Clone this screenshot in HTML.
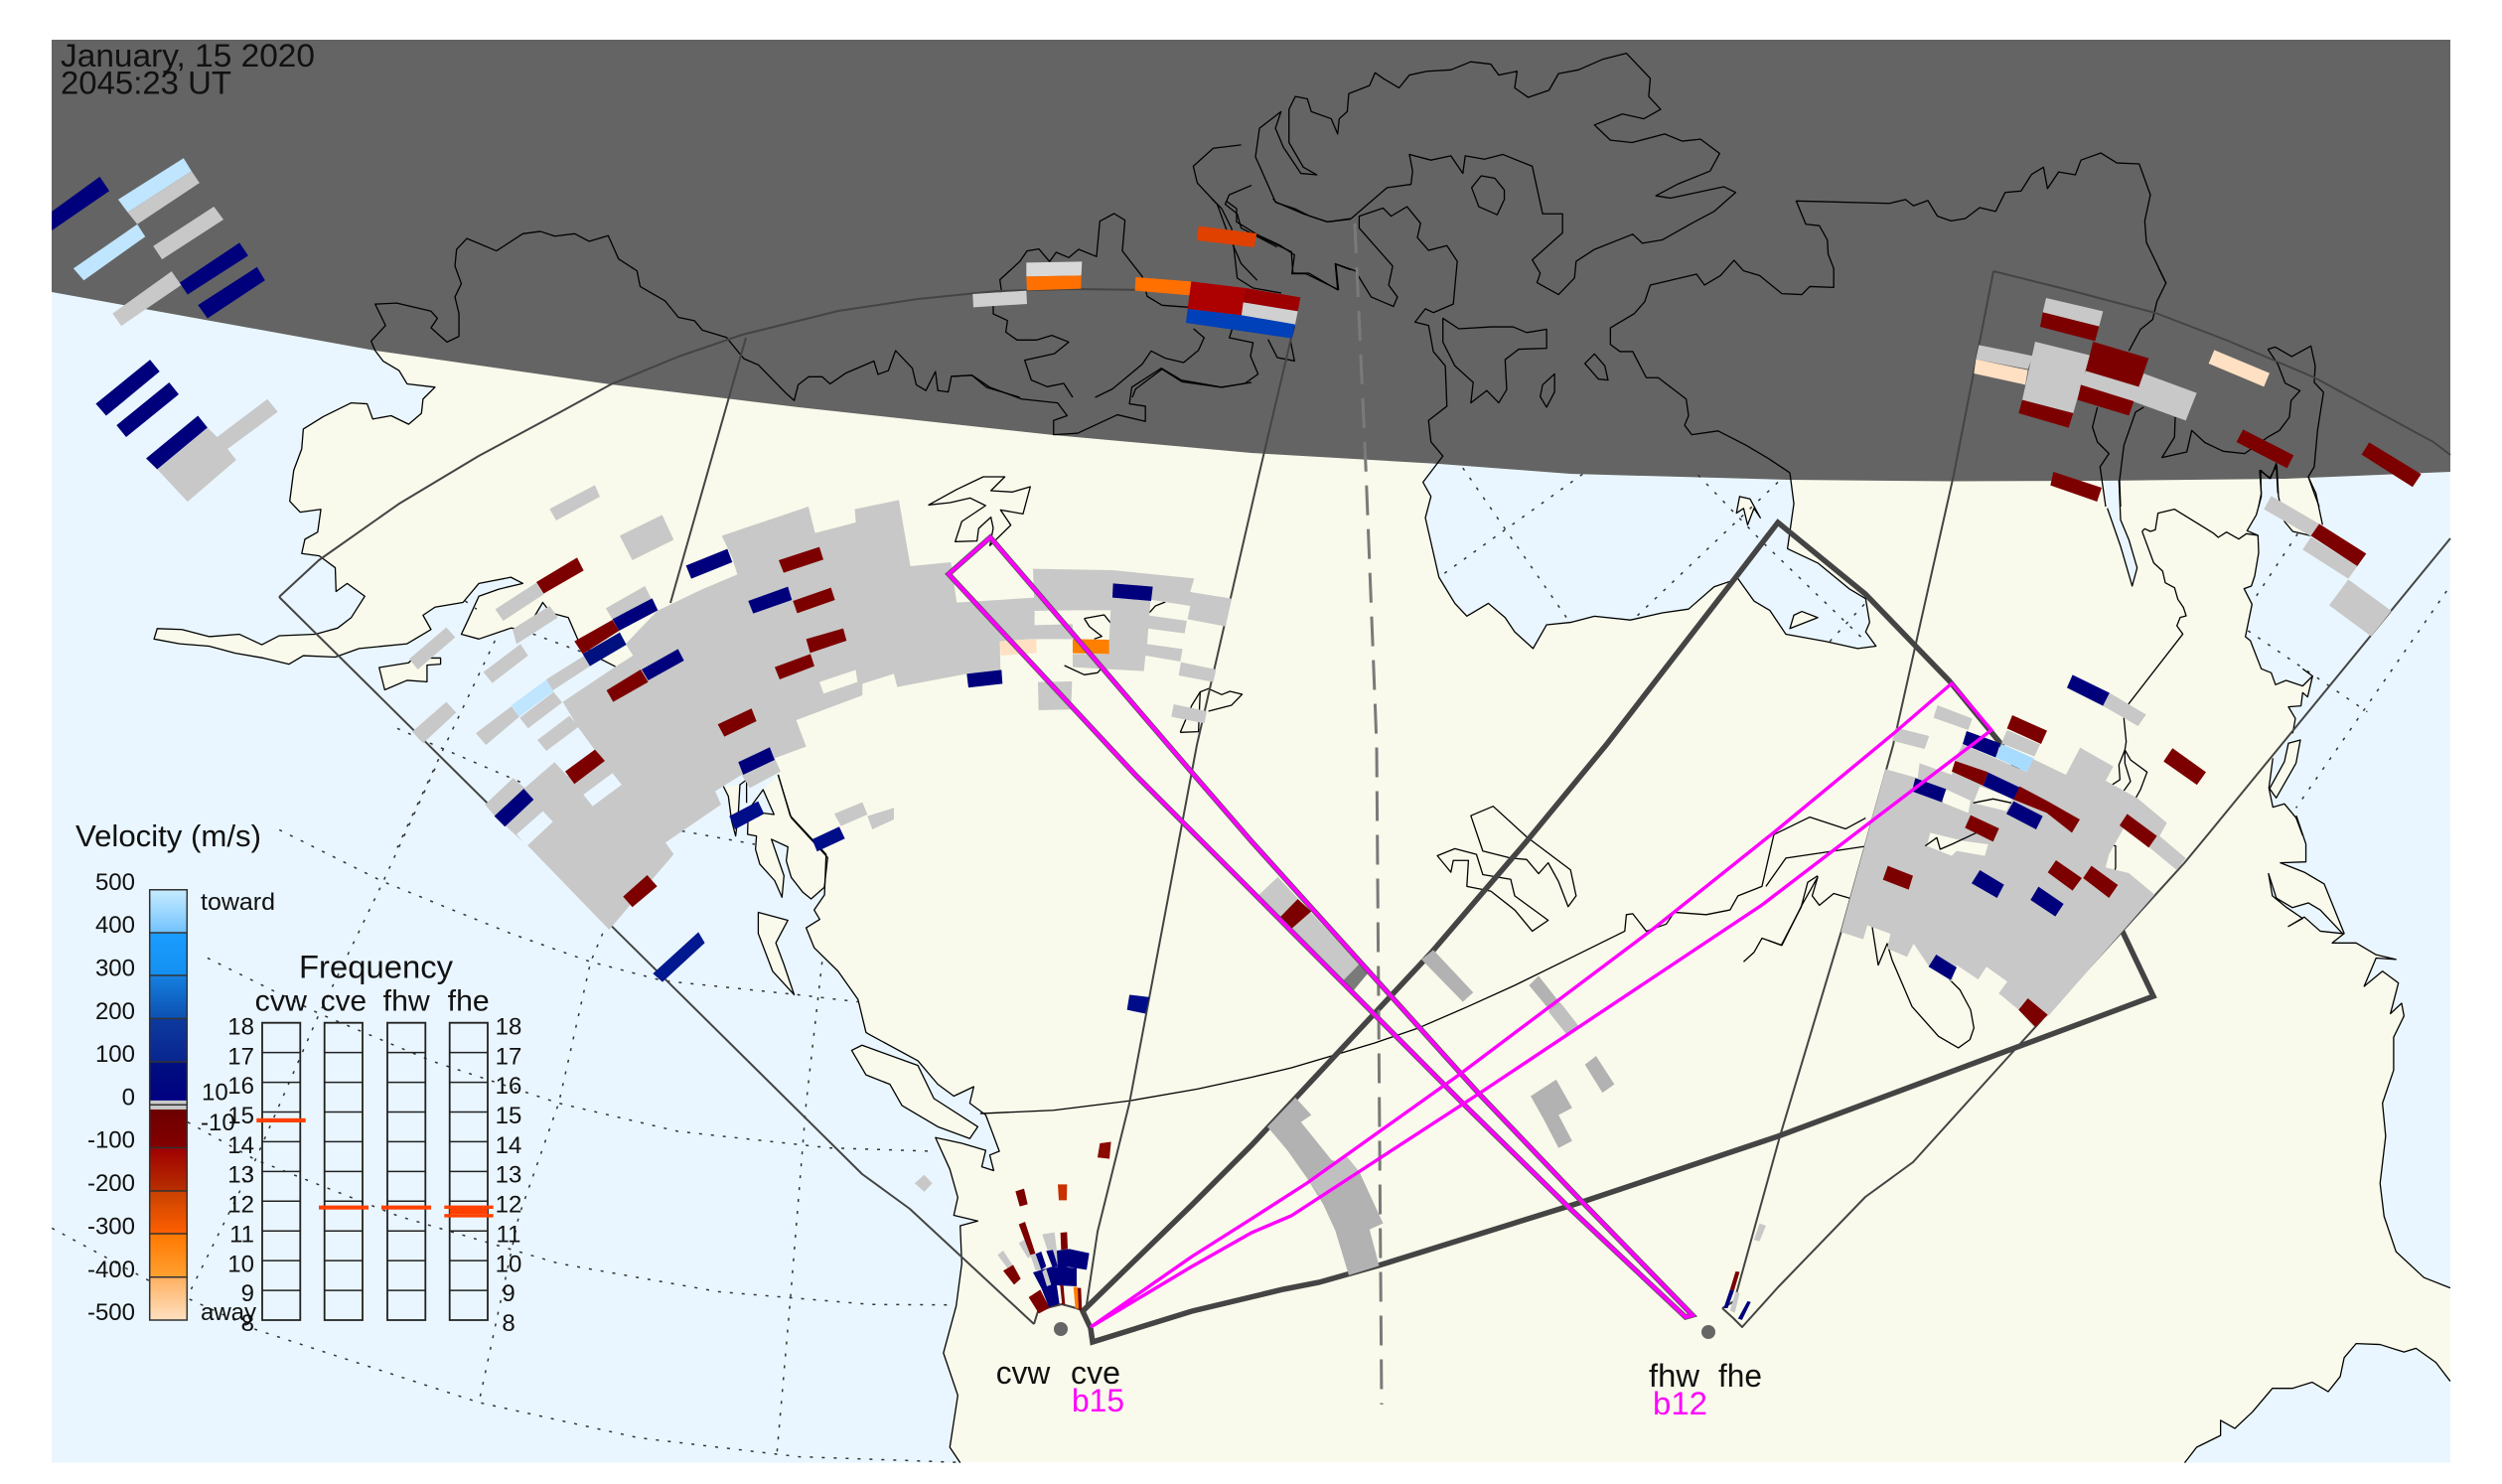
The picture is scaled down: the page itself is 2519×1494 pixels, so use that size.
<!DOCTYPE html>
<html><head><meta charset="utf-8"><title>SuperDARN velocity map</title>
<style>
html,body{margin:0;padding:0;background:#fff}
svg{display:block;font-family:"Liberation Sans",sans-serif}
svg *{vector-effect:non-scaling-stroke}
.c{fill:none;stroke:#000;stroke-width:1.3;stroke-linejoin:round}
.f{fill:none;stroke:#444;stroke-width:2;stroke-linejoin:round}
.d{fill:none;stroke:#333;stroke-width:1.5;stroke-dasharray:3 9}
.o{fill:#e9f6ff}.l{fill:#f9faeb}
.g{fill:#c8c8c8}.n{fill:#00007d}.r{fill:#7d0000}.p{fill:#ffe0c2}.b{fill:#bfe5ff}.m{fill:#b2b2b2}
.k{fill:#7a7a7a}
text{fill:#111}
</style></head><body>
<svg xmlns="http://www.w3.org/2000/svg" width="2519" height="1494" viewBox="0 0 2519 1494">
<defs><linearGradient id="cb" x1="0" y1="0" x2="0" y2="1">
<stop offset="0" stop-color="#c6ecff"/><stop offset=".099" stop-color="#72c2ff"/>
<stop offset=".1" stop-color="#1a9dff"/><stop offset=".199" stop-color="#1490f0"/>
<stop offset=".2" stop-color="#1580e0"/><stop offset=".3" stop-color="#0c50b0"/>
<stop offset=".301" stop-color="#0c3a9e"/><stop offset=".399" stop-color="#0a2590"/>
<stop offset=".4" stop-color="#001080"/><stop offset=".489" stop-color="#000080"/>
<stop offset=".49" stop-color="#c8c8c8"/><stop offset=".51" stop-color="#c8c8c8"/>
<stop offset=".511" stop-color="#6c0000"/><stop offset=".6" stop-color="#840000"/>
<stop offset=".601" stop-color="#a00000"/><stop offset=".7" stop-color="#b83000"/>
<stop offset=".701" stop-color="#c84000"/><stop offset=".799" stop-color="#ff6000"/>
<stop offset=".8" stop-color="#ff7800"/><stop offset=".899" stop-color="#ffa030"/>
<stop offset=".9" stop-color="#ffb060"/><stop offset="1" stop-color="#ffe0c0"/>
</linearGradient></defs>

<rect x="52" y="40" width="2415" height="1432" class="l"/>

<!-- oceans -->
<g transform="scale(.8036,.4783)" class="o">
<path d="M65,300L470,640L470,738L480,760L500,780L510,808L545,815L530,840L528,870L512,893L490,875L467,882L460,850L440,848L405,877L380,903L378,945L368,990L363,1055L376,1078L402,1072L398,1120L382,1135L378,1165L400,1170L420,1195L421,1245L435,1228L457,1255L440,1300L423,1322L395,1335L350,1338L328,1357L300,1335L262,1340L228,1325L197,1323L193,1345L225,1355L262,1360L295,1375L330,1385L362,1398L380,1380L420,1383L450,1365L510,1355L540,1325L530,1295L545,1278L580,1268L600,1228L640,1215L655,1228L625,1240L600,1255L585,1310L578,1335L600,1345L640,1322L660,1325L680,1268L690,1290L712,1300L725,1350L750,1385L771,1403L958,1568L65,1568Z"/>
</g>
<g transform="translate(0,750) scale(.8036,.4745)" class="o">
<path d="M65,-2L958,-2L975,63L990,150L1035,232L1033,318L1020,350L1027,370L1010,388L1020,430L1050,480L1075,540L1085,610L1090,615L1150,670L1175,720L1195,745L1220,725L1215,760L1235,785L1245,830L1252,862L1240,870L1245,903L1230,895L1235,860L1205,845L1172,833L1190,900L1200,960L1195,998L1225,1010L1203,1020L1205,1100L1198,1190L1182,1290L1200,1380L1190,1490L1203,1523L65,1523Z"/>
</g>
<g transform="translate(1260,0) scale(.803,.4783)" class="o">
<path d="M235,950L215,1015L225,1045L218,1090L235,1215L255,1270L270,1297L297,1270L318,1300L330,1330L353,1365L370,1315L400,1310L430,1297L475,1305L515,1290L548,1282L580,1235L610,1218L630,1265L650,1285L670,1335L720,1350L760,1365L783,1360L770,1330L775,1310L770,1260L750,1240L710,1185L672,1155L680,1060L675,960Z"/>
</g>
<g transform="translate(2100,440) scale(.3333)" class="o">
<path d="M52,100L65,215L105,330L140,450L155,395L130,310L105,250L100,100Z"/>
<path d="M528,80L530,180L515,235L487,283L520,297L522,350L510,420L500,450L478,458L502,505L482,603L497,615L530,700L560,712L573,748L605,735L655,752L685,722L670,785L655,772L650,812L612,815L633,850L625,895L565,970L553,1060L565,1118L600,1108L635,1150L655,1203L1100,1203L1100,80Z"/>
</g>
<g transform="translate(2100,440) scale(.3333)" class="l">
<path d="M582,60L672,60L695,170L715,265L680,298L625,285L600,255L582,180Z"/>
<path d="M612,925L648,915L635,985L575,1090L555,1062L600,980Z"/>
</g>
<g transform="translate(1260,750) scale(.803,.4745)" class="o">
<path d="M1318,185L1322,248L1290,250L1320,270L1345,295L1370,400L1355,420L1385,420L1410,445L1435,455L1410,452L1395,512L1418,480L1438,505L1428,570L1442,548L1445,575L1432,620L1432,690L1418,760L1422,830L1415,930L1420,1000L1435,1075L1470,1130L1503,1152L1503,185Z"/>
<path d="M1275,272L1285,325L1305,345L1325,335L1340,350L1368,400L1340,395L1320,365L1300,385L1318,368L1298,345L1280,320Z"/>
<path d="M1170,1523L1185,1490L1215,1465L1215,1433L1233,1450L1255,1415L1280,1365L1305,1365L1330,1352L1350,1372L1365,1340L1370,1300L1385,1270L1415,1272L1445,1288L1460,1280L1485,1310L1503,1350L1503,1523Z"/>
</g>
<!-- islands / land patches -->
<g transform="translate(400,480) scale(.3333)" class="l">
<path d="M1105,945L1138,1020L1060,1010L1058,1080L1085,1085L1082,1125L1095,1170L1140,1220L1162,1270L1168,1205L1130,1095L1180,1118L1175,1160L1190,1210L1225,1255L1250,1275L1290,1245L1300,1150L1190,1030L1150,900Z"/>
<path d="M985,935L1000,965L1010,1040L1022,1085L1030,1020L1035,930Z"/>
</g>
<g transform="translate(0,750) scale(.8036,.4745)" class="l">
<path d="M1067,648L1080,637L1150,680L1170,750L1225,810L1215,835L1175,810L1130,765L1115,720L1085,700Z"/>
<path d="M950,355L987,372L972,420L982,465L995,530L968,480L950,400Z"/>
</g>
<g transform="scale(.8036,.4783)" class="l">
<path d="M475,1405L512,1395L527,1370L535,1385L552,1385L552,1398L535,1400L535,1435L510,1432L482,1452Z"/>
</g>
<g transform="translate(1260,0) scale(.803,.4783)" class="l">
<path d="M680,1295L690,1287L710,1300L675,1323Z"/>
<path d="M612,1045L625,1050L638,1090L630,1070L622,1105L617,1070L608,1080Z"/>
</g>

<!-- night -->
<path d="M52,40L2467,40L2467,475L2300,482L2117,484L1967,484.5L1800,483L1581,477L1449,467L1260,456L1061,438L804,410L615,387L378,353L52,294Z" fill="#646464"/>

<!-- dotted grid -->
<g transform="translate(0,750) scale(.8036,.4745)">
<polyline class="d" points="350,180 480,290 640,400 740,460 830,500 1000,530 1075,545"/>
<polyline class="d" points="260,452 400,570 540,670 700,760 850,820 1040,855 1170,862"/>
<polyline class="d" points="235,800 320,880 500,1000 700,1100 900,1160 1090,1187 1190,1188"/>
<polyline class="d" points="65,1025 185,1135 320,1240 600,1395 800,1470 1000,1510 1200,1522"/>
<polyline class="d" points="545,50 480,290 400,570 320,880 235,1170"/>
<polyline class="d" points="755,400 740,460 700,760 650,1000 600,1395"/>
<polyline class="d" points="1030,460 1010,760 990,1180 973,1510"/>
</g>
<g transform="translate(400,480) scale(.3333)">
<polyline class="d" points="295,495 140,820 0,1120"/>
<polyline class="d" points="410,475 560,530"/>
<polyline class="d" points="0,760 100,805 390,930"/>
<polyline class="d" points="860,1070 1080,1110"/>
<polyline class="d" points="205,375 240,400"/>
</g>
<g transform="translate(1260,0) scale(.803,.4783)">
<polyline class="d" points="265,985 395,1300"/>
<polyline class="d" points="415,998 235,1215"/>
<polyline class="d" points="560,1000 640,1140 770,1350"/>
<polyline class="d" points="660,1015 478,1305"/>
<polyline class="d" points="725,1350 775,1260"/>
</g>
<g transform="translate(2100,440) scale(.3333)">
<polyline class="d" points="640,292 505,495"/>
<polyline class="d" points="490,585 850,830"/>
<polyline class="d" points="1090,465 635,1120"/>
</g>

<!-- coast lines -->
<g transform="scale(.8036,.4783)">
<polyline class="c" points="470,738 480,760 500,780 510,808 545,815 530,840 528,870 512,893 490,875 467,882 460,850 440,848 405,877 380,903 378,945 368,990 363,1055 376,1078 402,1072 398,1120 382,1135 378,1165 400,1170 420,1195 421,1245 435,1228 457,1255 440,1300 423,1322 395,1335 350,1338 328,1357 300,1335 262,1340 228,1325 197,1323 193,1345 225,1355 262,1360 295,1375 330,1385 362,1398 380,1380 420,1383 450,1365 510,1355 540,1325 530,1295 545,1278 580,1268 600,1228 640,1215 655,1228 625,1240 600,1255 585,1310 578,1335 600,1345 640,1322 660,1325 680,1268 690,1290 712,1300 725,1350 750,1385 771,1403"/>
<polygon class="c" points="475,1405 512,1395 527,1370 535,1385 552,1385 552,1398 535,1400 535,1435 510,1432 482,1452"/>
<polyline class="c" points="470,738 465,718 483,685 470,640 497,638 540,655 548,670 540,690 560,720 575,708 575,660 570,625 578,597 570,560 572,525 585,502 622,528 655,492 677,487 695,497 720,492 738,508 762,496 775,545 798,570 802,603 833,633 850,668 870,675 880,695 910,710 932,755 950,768 985,828 995,843 1000,810 1013,793 1030,793 1040,808 1060,785 1095,760 1100,788 1113,780 1122,738 1143,775 1148,810 1160,822 1172,782 1175,822 1188,825 1192,792 1218,790 1240,815 1280,840 1325,848 1337,875 1320,885 1320,915 1350,912 1400,873 1435,887 1435,855 1415,850 1418,815 1455,775 1480,800 1530,815 1568,805"/>
<polyline class="c" points="1555,305 1520,312 1495,350 1500,385 1525,430 1538,490 1555,555 1575,590"/>
<polyline class="c" points="1568,390 1540,410 1535,430 1550,450 1555,480 1600,520"/>
</g>
<g transform="translate(960,200) scale(.3333)">
<polyline class="c" points="290,190 310,162 348,178 378,153 432,175 442,68 485,45 518,65 510,158 570,235 585,295 630,322 710,328"/>
<polyline class="c" points="290,190 258,152 222,158 200,190 140,245 145,280 120,300 120,348 163,368 158,403 192,427 250,427 297,413 348,433 305,468 215,488 235,548 283,568 333,558 360,600"/>
<polyline class="c" points="428,600 480,575 570,500 597,460 640,482 695,495 740,458 757,420 725,393"/>
<polyline class="c" points="540,600 550,575 630,515 690,553 810,570 880,558 920,530 897,475 905,435 833,420 843,390"/>
<polyline class="c" points="780,0 810,30 840,90 857,240 905,270 990,285"/>
<polyline class="c" points="825,8 855,30 855,70 920,110 985,140 1030,170 1022,227 1065,227 1163,275 1155,198 1200,215"/>
<polyline class="c" points="965,0 975,12 1030,30 1075,52 1130,70 1200,62"/>
<polyline class="c" points="950,425 978,480 1030,490 1018,430 1030,385"/>
<polyline class="c" points="0,537 55,533 100,570 200,600"/>
</g>
<g transform="translate(1260,0) scale(.803,.4783)">
<polyline class="c" points="0,490 50,530 52,575 72,575 108,610 105,555 130,570 150,625 178,645 183,625 172,600 177,560 135,480 135,455 165,438 175,455 195,435 212,470 208,500 222,527 245,517 258,550 253,640 228,658 218,650 205,678 222,685 228,740 243,770 245,855 222,885 225,930 240,960 215,1015 225,1045 218,1090 235,1215 255,1270 270,1297 297,1270 318,1300 330,1330 353,1365 370,1315 400,1310 430,1297 475,1305 515,1290 548,1282 580,1235 610,1218 630,1265 650,1285 670,1335 720,1350 760,1365 783,1360 770,1330 775,1310 770,1260 750,1240 710,1185 672,1155 680,1060 675,995"/>
<polygon class="c" points="37,235 10,270 5,330 30,425 65,450 95,467 125,460 170,395 200,388 202,360 198,325 225,337 250,328 265,365 268,328 292,335 315,325 352,350 365,450 390,450 390,490 352,547 362,575 358,595 385,620 405,585 407,550 430,525 478,493 490,512 515,505 552,470 580,445 607,405 592,393 525,417 507,412 535,387 575,360 587,323 563,293 540,297 518,282 477,300 450,295 430,263 465,240 492,250 513,230 498,203 500,165 470,112 440,125 410,147 385,155 373,190 347,205 330,185 333,150 310,158 300,135 275,130 250,147 220,150 198,158 185,185 165,165 155,153 148,180 122,197 120,235 110,250 108,282 100,250 75,235 70,208 55,203 47,230 47,300 65,352 82,368 62,365 40,310 30,270"/>
<polygon class="c" points="288,370 305,375 317,400 317,420 308,452 285,435 276,395"/>
<polygon class="c" points="240,670 260,692 300,688 328,688 345,700 370,693 370,733 335,735 318,757 320,820 310,848 295,822 275,848 278,805 255,770 240,720"/>
<polygon class="c" points="430,745 418,765 435,798 447,800 443,770"/>
<polygon class="c" points="380,787 365,810 362,835 370,857 380,825"/>
<polyline class="c" points="675,995 648,965 620,937 585,907 552,915 543,895 548,875 545,840 510,795 495,795 478,740 462,740 450,725 450,690 480,660 493,635 500,600 558,577 568,600 588,580 605,548 617,570 637,580 665,618 690,620 700,603 730,605 730,565 723,535 722,505 712,475 695,472 683,423 800,428 820,420 830,433 848,422 860,455 877,465 895,460 913,437 933,445 945,405 965,402 978,367 993,352 998,397 1012,362 1033,368 1040,337 1065,322 1085,343 1113,345 1127,410 1120,465 1122,510 1147,597"/>
<polygon class="c" points="680,1295 690,1287 710,1300 675,1323"/>
<polygon class="c" points="612,1045 625,1050 638,1090 630,1070 622,1105 617,1070 608,1080"/>
</g>
<g transform="translate(1950,270) scale(.3333)">
<polyline class="c" points="670,0 692,45 665,100 652,155 615,185 580,250"/>
<polyline class="c" points="625,420 600,435 565,535 552,640 555,720"/>
<polyline class="c" points="485,420 470,480 485,525 520,560 493,600 510,720"/>
<polyline class="c" points="1000,245 1022,238 1072,267 1130,235 1143,295 1140,345 1168,375 1150,490 1140,600 1122,630 1140,680 1155,720"/>
<polyline class="c" points="1000,245 1030,290 1052,347 1097,370 1070,400 1065,450 1035,490 1000,510 930,560 865,553 810,527 770,490 755,555 680,572 718,510 720,450"/>
<polyline class="c" points="975,610 1008,635 1025,590 1030,680"/>
<polyline class="c" points="975,610 980,680 972,720"/>
</g>
<g transform="translate(2100,440) scale(.3333)">
<polyline class="c" points="65,215 105,330 140,450 155,395 130,310 105,250 100,130"/>
<polyline class="c" points="528,100 555,125 577,85 582,180 600,255 625,285 680,298"/>
<polyline class="c" points="528,100 530,180 515,235 487,283 520,297 522,350 510,420 500,450 478,458 502,505 482,603 497,615 530,700 560,712 573,748 605,735 655,752 685,722 655,700"/>
<polyline class="c" points="685,722 670,785 655,772 650,812 612,815 633,850 625,895"/>
<polyline class="c" points="672,120 695,170 715,265"/>
<polyline class="c" points="565,970 553,1060 565,1118 600,1108 635,1150 655,1203"/>
<polygon class="c" points="612,925 648,915 635,985 575,1090 555,1062 600,980"/>
<polyline class="c" points="170,285 178,277 195,285 210,280 218,230 268,218 385,290 400,303 425,287 462,308 485,292 520,297"/>
<polyline class="c" points="170,285 205,380 232,405 240,440 268,455 278,490 295,515 303,540 285,545 275,570 293,595 130,805 115,850 122,920 118,945 100,990 103,1035 80,1050"/>
<polyline class="c" points="118,945 135,975 185,1012 165,1065 150,1092"/>
<polyline class="c" points="118,945 118,985 135,1040 115,1068"/>
</g>
<g transform="translate(400,480) scale(.3333)">
<polyline class="c" points="1150,900 1190,1030 1300,1150 1290,1240 1250,1275 1225,1255 1190,1210 1175,1160 1180,1118 1130,1095 1168,1205 1162,1270 1140,1220 1095,1170 1082,1125 1085,1085 1058,1080 1060,1010 1138,1020 1105,945 1058,1010"/>
<polyline class="c" points="985,935 1000,965 1010,1040 1022,1085 1030,1020 1035,930 1055,915 1055,985"/>
</g>
<g transform="translate(800,480) scale(.3333)">
<polygon class="c" points="405,85 490,38 570,0 635,0 593,42 657,46 712,30 690,112 622,100 653,146 590,208 600,155 593,122 556,156 551,194 485,196 505,135 577,87 530,64 470,78"/>
<polyline class="c" points="1072,410 1090,390 1120,378"/>
<polyline class="c" points="875,428 935,417 955,442"/>
<polyline class="c" points="875,428 890,452 928,482 905,490"/>
<polyline class="c" points="815,570 875,598 915,592 930,575"/>
<polyline class="c" points="1165,772 1220,770 1225,650 1250,640 1290,658 1315,648 1352,657 1320,690 1250,708"/>
<polyline class="c" points="1165,772 1200,690 1225,650"/>
</g>
<g transform="translate(0,750) scale(.8036,.4745)">
<polyline class="c" points="975,63 990,150 1035,232 1033,318 1020,350 1027,370 1010,388 1020,430 1050,480 1075,540 1085,610 1090,615 1150,670 1175,720 1195,745 1220,725 1215,760 1235,785 1245,830 1252,862 1240,870 1245,903 1230,895 1235,860 1205,845 1172,833 1190,900 1200,960 1195,998 1225,1010 1203,1020 1205,1100 1198,1190 1182,1290 1200,1380 1190,1490 1203,1523"/>
<polygon class="c" points="1067,648 1080,637 1150,680 1170,750 1225,810 1215,835 1175,810 1130,765 1115,720 1085,700"/>
<polygon class="c" points="950,355 987,372 972,420 982,465 995,530 968,480 950,400"/>
<polyline class="c" points="1228,782 1320,775 1415,755 1500,730 1568,705"/>
</g>
<g transform="translate(1260,750) scale(.803,.4745)">
<polyline class="c" points="0,705 50,685 100,660 155,632 210,600 270,556 330,510 400,452 468,395 470,360 478,358 495,395 520,380 530,355 570,360 600,350 610,320 640,300 655,190 700,153 745,178 770,155"/>
<polyline class="c" points="617,460 630,440 640,410 665,425 690,340 710,280 703,320 712,340 730,315 750,325"/>
<polyline class="c" points="645,300 670,240 770,215"/>
<polygon class="c" points="275,150 303,130 345,195 400,265 407,320 397,343 385,290 372,250 360,273 345,243 325,240 290,225"/>
<polygon class="c" points="233,235 255,220 282,232 290,275 325,285 330,320 372,372 352,395 330,350 300,310 270,300 272,245 253,245 250,270"/>
<polyline class="c" points="1322,210 1322,248 1290,250 1320,270 1345,295 1370,400 1355,420 1385,420 1410,445 1435,455 1410,452 1395,512 1418,480 1438,505 1428,570 1442,548 1445,575 1432,620 1432,690 1418,760 1422,830 1415,930 1420,1000 1435,1075 1470,1130 1503,1152"/>
<polyline class="c" points="1310,150 1322,210"/>
<polyline class="c" points="1275,272 1285,325 1305,345 1325,335 1340,350 1368,400 1340,395 1320,365 1300,385 1318,368 1298,345 1280,320 1275,272"/>
<polyline class="c" points="1170,1523 1185,1490 1215,1465 1215,1433 1233,1450 1255,1415 1280,1365 1305,1365 1330,1352 1350,1372 1365,1340 1370,1300 1385,1270 1415,1272 1445,1288 1460,1280 1485,1310 1503,1350"/>
</g>
<g transform="translate(1780,660) scale(.3333)">
<polyline class="c" points="315,820 333,935 360,870 375,920 435,1060 515,1150 575,1185 610,1160 622,1125 612,1070 580,1010 545,975 500,930 470,910 460,880"/>
<polyline class="c" points="475,575 510,550 600,545"/>
<polyline class="c" points="1025,570 1050,575 1050,640 1040,680"/>
<polyline class="c" points="1025,575 985,640"/>
<polyline class="c" points="0,860 40,875 100,760 120,685 150,665"/>
</g>

<!-- FOV outlines -->
<polyline class="f" points="281,601 868,1182 916,1217 1041,1333"/>
<polyline class="f" points="281,601 321,564 402,507 482,459 562,416 615,387 683,359 747,337 844,313 924,301 1004,293 1077,291 1165,292 1260,299 1300,306"/>
<polyline class="f" points="751,340 675,607"/>
<polyline class="f" points="1300,340 1267,480 1205,750 1137,1111 1105,1240 1093,1320"/>
<polyline class="f" points="1041,1333 1045,1320 1057,1316 1069,1313 1080,1316 1093,1320"/>
<polyline class="f" points="2007,273 2083,292 2170,315 2243,343 2330,380 2450,445 2467,458"/>
<polyline class="f" points="2007,273 1967,478 1906,750 1854,937 1792,1144 1746,1310 1734,1317"/>
<polyline class="f" points="1734,1317 1745,1327 1754,1336 1790,1296 1878,1205 1926,1170 2031,1054 2199,869 2223,840 2467,542"/>
<!-- bold -->
<polygon fill="none" stroke="#444" stroke-width="5.5" stroke-linejoin="miter" points="1090,1320 1200,1213 1260,1153 1441,959 1537,847 1617,750 1750,578 1790,526 1878,598 1963,686 2013,747 2137,938 2168,1003 1790,1144 1593,1210 1388,1274 1328,1291 1292,1298 1200,1320 1100,1351 1098,1337"/>
<!-- vertical dashed -->
<polyline fill="none" stroke="#7a7a7a" stroke-width="3" stroke-dasharray="30 14" points="1364,225 1375,469 1386,750 1391,1414"/>

<!-- data top-left -->
<g transform="scale(.8036,.4783)">
<polygon class="n" points="65,445 125,372 137,402 65,485"/>
<polygon class="b" points="148,420 230,333 240,360 160,447"/>
<polygon class="g" points="160,447 240,360 250,385 172,472"/>
<polygon class="b" points="92,565 172,472 182,498 105,590"/>
<polygon class="g" points="192,518 268,435 280,462 203,546"/>
<polygon class="n" points="225,595 300,511 311,538 235,620"/>
<polygon class="n" points="248,642 322,562 332,590 260,670"/>
<polygon class="g" points="141,660 215,571 227,600 152,686"/>
<polygon class="n" points="120,850 188,757 200,782 133,875"/>
<polygon class="n" points="146,895 212,805 224,830 158,920"/>
<polygon class="n" points="183,965 248,875 260,900 197,988"/>
<polygon class="g" points="197,988 260,900 272,920 335,840 348,867 285,945 296,968 235,1056"/>
</g>
<!-- night data, cv -->
<g transform="translate(960,200) scale(.3333)">
<polygon fill="#cfcfcf" points="58,288 220,278 222,318 60,328"/>
<polygon fill="#d8d8d8" points="220,193 388,190 386,232 220,235"/>
<polygon fill="#ff7000" points="220,235 386,232 385,272 222,277"/>
<polygon fill="#ff7000" points="550,237 718,250 715,292 548,278"/>
<polygon fill="#ad0000" points="718,250 882,270 870,352 707,333"/>
<polygon fill="#9c0000" points="882,270 1048,298 1040,340 875,313"/>
<polygon fill="#d0d0d0" points="875,313 1040,340 1032,380 870,352"/>
<polygon fill="#0040b8" points="707,333 870,352 1032,380 1022,422 702,375"/>
<polygon fill="#e04000" points="740,83 916,105 908,147 736,126"/>
</g>
<!-- night data, fh -->
<g transform="translate(1950,270) scale(.3333)">
<polygon class="g" points="330,90 502,130 490,176 320,133"/>
<polygon class="r" points="320,133 490,176 478,220 312,177"/>
<polygon class="g" points="127,232 290,265 275,305 118,275"/>
<polygon class="p" points="118,275 275,308 267,352 112,318"/>
<polygon class="g" points="297,222 462,263 412,438 258,398"/>
<polygon class="g" points="450,310 610,358 625,318 785,377 752,460 592,402 430,352"/>
<polygon class="r" points="472,222 640,272 610,358 450,310"/>
<polygon class="r" points="435,352 595,402 580,445 425,398"/>
<polygon class="r" points="258,398 412,438 398,482 247,438"/>
<polygon class="p" points="838,247 1005,317 988,358 821,288"/>
<polygon class="r" points="925,487 1078,565 1058,604 905,525"/>
<polygon class="r" points="1306,526 1463,622 1437,661 1283,563"/>
<polygon class="r" points="352,615 498,663 484,705 343,656"/>
</g>
<g transform="translate(2100,440) scale(.3333)">
<polygon class="g" points="560,178 705,262 680,300 538,218"/>
<polygon class="r" points="705,262 847,352 820,390 680,298"/>
<polygon class="g" points="680,302 820,390 793,428 655,340"/>
<polygon class="g" points="793,430 923,525 862,602 735,508"/>
<polygon class="r" points="262,940 362,1012 335,1050 235,980"/>
</g>
<!-- cv main -->
<g transform="translate(400,480) scale(.3333)">
<polygon class="g" points="460,97 597,25 612,60 480,132"/>
<polygon class="g" points="672,178 800,115 835,190 710,252"/>
<polygon class="g" points="296,400 420,320 442,355 320,435"/>
<polygon class="g" points="348,460 460,390 485,425 360,505"/>
<polygon class="g" points="260,590 372,505 395,540 287,623"/>
<polygon class="g" points="36,550 148,455 175,485 62,582"/>
<polygon class="g" points="45,770 148,680 178,712 78,805"/>
<polygon class="g" points="237,775 345,693 368,725 268,810"/>
<polygon class="b" points="345,690 452,612 472,648 368,725"/>
<polygon class="g" points="370,728 472,650 498,682 395,760"/>
<polygon class="g" points="450,612 565,540 585,570 470,645"/>
<polygon class="g" points="423,795 520,722 548,755 450,828"/>
<polygon class="g" points="630,397 748,330 785,405 670,465"/>
<polygon class="g" points="500,680 660,573 712,540 690,505 785,405 920,340 1027,295 1012,245 980,178 1242,90 1262,170 1385,138 1382,98 1515,70 1550,270 1672,258 1690,380 1925,365 1925,448 2040,445 2040,490 1915,490 1820,497 1822,585 1720,595 1510,635 1500,595 1405,625 1405,660 1205,735 1235,815 1140,850 1158,890 1065,940 1040,900 960,950 978,990 810,1105 835,1140 640,1368 395,1115 360,1085 290,1020 265,990 350,910 385,940 475,862 515,905 600,830 545,755"/>
<polygon class="l" points="1275,620 1385,583 1390,620 1288,655"/>
<polygon class="o" points="562,960 650,895 678,930 590,995"/>
<polygon class="o" points="360,1080 440,1010 470,1042 392,1115"/>
<polygon class="r" points="420,318 543,244 563,283 442,353"/>
<polygon class="r" points="1152,252 1275,212 1287,250 1167,290"/>
<polygon class="r" points="1195,375 1310,335 1322,372 1208,412"/>
<polygon class="r" points="1235,490 1347,458 1357,495 1247,532"/>
<polygon class="r" points="1140,575 1248,535 1260,572 1155,612"/>
<polygon class="n" points="1060,375 1180,332 1192,372 1075,413"/>
<polygon class="n" points="872,268 997,218 1012,258 888,308"/>
<polygon class="r" points="632,645 735,582 758,620 652,680"/>
<polygon class="n" points="738,582 848,520 866,555 758,615"/>
<polygon class="r" points="968,748 1070,700 1085,738 988,785"/>
<polygon class="n" points="1030,862 1125,817 1140,855 1045,900"/>
<polygon class="n" points="650,430 770,367 787,403 670,465"/>
<polygon class="r" points="535,497 650,432 670,465 560,535"/>
<polygon fill="#00107f" points="560,535 672,470 692,507 582,572"/>
<polygon class="r" points="682,1268 755,1203 785,1237 710,1300"/>
<polygon class="r" points="507,890 597,824 627,858 535,928"/>
<polygon class="n" points="293,1025 382,942 412,975 325,1057"/>
<polygon fill="#000d88" points="1003,1025 1090,980 1108,1018 1020,1065"/>
<polygon fill="#000d88" points="1253,1095 1335,1057 1352,1093 1268,1132"/>
<polygon class="g" points="1320,1018 1405,983 1420,1020 1340,1055"/>
<polygon class="g" points="1420,1025 1500,1000 1500,1035 1435,1065"/>
</g>
<g transform="translate(800,480) scale(.3333)">
<polygon class="g" points="720,278 960,282 1207,307 1195,348 1320,368 1302,452 1187,430 1195,390 1080,372 960,365 960,403 840,403 725,405"/>
<polygon class="g" points="960,365 1075,375 1065,505 1172,520 1165,558 1060,540 1055,587 840,575 840,535 948,535 955,400"/>
<polygon class="g" points="1065,418 1185,435 1178,473 1065,458"/>
<polygon class="g" points="1167,560 1273,582 1265,620 1160,600"/>
<polygon class="g" points="735,620 838,618 835,703 737,705"/>
<polygon class="g" points="1145,687 1245,708 1238,745 1138,725"/>
<polygon class="n" points="962,322 1082,332 1077,375 960,365"/>
<polygon class="n" points="520,595 625,583 628,625 525,637"/>
<polygon class="p" points="620,497 730,490 731,532 623,540"/>
<polygon fill="#ff7f00" points="840,490 950,492 950,535 840,533"/>
</g>
<g transform="translate(0,750) scale(.8036,.4745)">
<polygon fill="#001890" points="818,485 875,397 883,420 830,503"/>
<polygon fill="#000d88" points="1415,530 1440,535 1435,570 1412,562"/>
<polygon fill="#8a0a00" points="1378,845 1392,842 1390,878 1375,875"/>
<polygon class="g" points="1158,912 1168,930 1158,948 1146,930"/>
</g>
<!-- near-radar cv -->
<g transform="translate(960,1180) scale(.3333)">
<polygon fill="#c83000" points="315,37 343,37 342,85 318,85"/>
<polygon class="r" points="187,58 213,50 224,97 200,104"/>
<polygon class="g" points="197,215 217,202 240,250 225,260"/>
<polygon class="g" points="268,188 305,182 318,285 300,285"/>
<polygon class="r" points="197,158 216,150 248,248 232,250"/>
<polygon class="r" points="323,183 343,181 345,232 325,235"/>
<polygon class="g" points="133,250 150,237 178,280 163,290"/>
<polygon class="r" points="150,298 180,280 203,322 183,340"/>
<polygon class="g" points="232,250 250,245 265,295 248,297"/>
<polygon class="n" points="248,247 265,240 280,285 265,295"/>
<polygon class="n" points="280,238 300,235 315,285 298,285"/>
<polygon class="n" points="312,237 350,232 410,245 402,295 350,287 315,290"/>
<polygon class="n" points="240,303 300,285 372,290 372,345 312,342 320,398 288,408 265,350"/>
<polygon class="g" points="268,300 280,292 295,340 282,345"/>
<polygon class="r" points="227,378 262,355 290,410 258,427"/>
<polygon class="r" points="322,342 332,342 337,400 328,400"/>
<polygon fill="#ff7f00" points="362,347 375,347 378,412 368,412"/>
<polygon class="r" points="375,350 385,350 388,417 378,415"/>
</g>
<!-- mid-map gray -->
<g transform="translate(1260,750) scale(.803,.4745)">
<polygon class="g" points="8,320 33,280 135,465 112,508 45,395"/>
<polygon class="r" points="33,370 58,327 75,353 48,393"/>
<polygon class="k" points="112,505 135,465 147,482 125,527"/>
<polygon class="m" points="213,455 228,435 278,525 265,545"/>
<polygon class="m" points="348,510 360,490 388,550 375,565"/>
<polygon fill="#c0c0c0" points="372,565 388,548 412,600 397,618"/>
<polygon class="m" points="418,678 432,660 455,720 440,738"/>
<polygon class="m" points="350,745 382,710 402,770 385,785 402,840 385,855 365,790"/>
<polygon class="m" points="20,810 55,748 75,785 62,800 100,880 135,905 165,1015 148,1028 160,1105 122,1125 105,1030 90,975 70,920 45,860"/>
<polygon fill="#c0c0c0" points="72,925 118,870 135,905 88,960"/>
<polygon class="g" points="630,1050 637,1015 645,1020 637,1053"/>
<polygon class="r" points="600,1155 607,1117 612,1118 605,1158"/>
<polygon class="n" points="592,1195 600,1155 605,1158 597,1195"/>
<polygon class="g" points="600,1200 607,1160 612,1163 606,1205"/>
<polygon class="n" points="610,1217 622,1180 626,1182 615,1220"/>
</g>
<!-- fh main -->
<g transform="translate(1780,660) scale(.3333)">
<polygon class="g" points="512,150 617,190 605,225 500,188"/>
<polygon class="g" points="388,218 487,243 473,282 375,257"/>
<polygon class="g" points="355,343 452,370 458,325 555,360 567,310 588,268 687,310 782,352 800,312 900,360 943,278 1043,335 1020,378 1115,430 1205,505 1183,545 1262,612 1235,648 1150,578 1075,520 1030,600 1020,640 1090,657 1168,722 850,1085 803,1122 757,1070 697,1020 723,985 660,940 635,978 570,935 555,985 487,940 440,870 420,910 360,885 370,840 300,815 288,857 220,835"/>
<polygon class="l" points="525,430 540,405 612,438 605,475 530,445"/>
<polygon class="l" points="640,395 740,430 720,470 620,445"/>
<polygon class="l" points="480,575 490,535 590,560 665,570 655,605 570,590 555,605"/>
<polyline class="c" points="475,575 510,550 520,585 555,570 630,535"/>
<polyline class="c" points="620,445 680,433 735,445"/>
<polygon class="g" points="722,225 822,268 805,305 705,265"/>
<polygon class="r" points="738,180 843,227 825,267 722,220"/>
<polygon class="n" points="600,228 702,265 688,308 588,267"/>
<polygon fill="#a8dcff" points="705,267 803,310 782,352 687,308"/>
<polygon class="r" points="565,318 665,352 650,393 555,350"/>
<polygon class="n" points="665,353 760,398 742,435 650,393"/>
<polygon class="n" points="742,440 830,485 810,525 720,478"/>
<polygon class="r" points="760,395 845,440 942,495 918,535 842,475 742,435"/>
<polygon class="n" points="445,370 538,403 525,443 435,410"/>
<polygon class="r" points="612,482 698,522 680,562 595,520"/>
<polygon class="r" points="362,635 438,665 425,707 347,677"/>
<polygon class="n" points="640,648 713,692 692,732 615,688"/>
<polygon class="n" points="817,698 893,750 868,788 793,738"/>
<polygon class="r" points="870,618 948,672 920,710 845,655"/>
<polygon class="r" points="977,635 1057,693 1030,732 952,672"/>
<polygon class="r" points="1085,478 1175,545 1150,580 1062,513"/>
<polygon class="n" points="508,903 570,942 552,980 485,940"/>
<polygon class="r" points="785,1035 845,1085 808,1122 757,1070"/>
<polygon class="n" points="920,58 1032,113 1012,152 903,97"/>
<polygon class="g" points="1032,113 1142,178 1118,213 1012,152"/>
<polygon class="r" points="1222,280 1323,352 1296,390 1196,318"/>
</g>

<!-- magenta beams -->
<polygon fill="none" stroke="#555" stroke-width="5.4" stroke-linejoin="miter" points="955,578 997,541 1202,780 1260,847 1489,1101 1593,1210 1704,1324 1697,1326 1581,1217 1473,1111 1260,897 1143,780"/>
<polygon fill="none" stroke="#f0f" stroke-width="3.8" stroke-linejoin="miter" points="955,578 997,541 1202,780 1260,847 1489,1101 1593,1210 1704,1324 1697,1326 1581,1217 1473,1111 1260,897 1143,780"/>
<polygon fill="none" stroke="#f0f" stroke-width="3.4" stroke-linejoin="miter" points="1098,1336 1200,1265 1260,1227 1316,1191 1469,1082 1662,937 1786,838 1907,738 1965,688 2005,735 1880,830 1774,911 1489,1101 1300,1224 1260,1241 1200,1275"/>

<!-- radar dots -->
<circle cx="1068" cy="1338" r="7" fill="#666"/>
<circle cx="1720" cy="1341" r="7" fill="#666"/>

<!-- labels -->
<text x="61" y="67" font-size="32" textLength="256" lengthAdjust="spacingAndGlyphs">January, 15 2020</text>
<text x="61" y="94.5" font-size="32" textLength="172" lengthAdjust="spacingAndGlyphs">2045:23 UT</text>
<text x="1002.7" y="1393" font-size="32" textLength="54.6" lengthAdjust="spacingAndGlyphs">cvw</text>
<text x="1078" y="1393" font-size="32" textLength="50" lengthAdjust="spacingAndGlyphs">cve</text>
<text x="1079" y="1421" font-size="32" textLength="53" lengthAdjust="spacingAndGlyphs" style="fill:#f0f">b15</text>
<text x="1660" y="1396" font-size="32" textLength="51" lengthAdjust="spacingAndGlyphs">fhw</text>
<text x="1730" y="1396" font-size="32" textLength="44" lengthAdjust="spacingAndGlyphs">fhe</text>
<text x="1664" y="1424" font-size="32" textLength="55" lengthAdjust="spacingAndGlyphs" style="fill:#f0f">b12</text>

<!-- colour bar -->
<text x="76" y="852" font-size="31" textLength="187" lengthAdjust="spacingAndGlyphs">Velocity (m/s)</text>
<rect x="150.7" y="895.8" width="37.6" height="433.2" fill="url(#cb)" stroke="#333" stroke-width="1.5"/>
<g stroke="#333" stroke-width="1.5">
<line x1="150.7" x2="188.3" y1="939" y2="939"/><line x1="150.7" x2="188.3" y1="982" y2="982"/>
<line x1="150.7" x2="188.3" y1="1025.5" y2="1025.5"/><line x1="150.7" x2="188.3" y1="1069" y2="1069"/>
<line x1="150.7" x2="188.3" y1="1112.3" y2="1112.3"/><line x1="150.7" x2="188.3" y1="1155.5" y2="1155.5"/>
<line x1="150.7" x2="188.3" y1="1199" y2="1199"/><line x1="150.7" x2="188.3" y1="1242" y2="1242"/>
<line x1="150.7" x2="188.3" y1="1285.7" y2="1285.7"/>
</g>
<g font-size="24" text-anchor="end">
<text x="136" y="896">500</text><text x="136" y="939">400</text><text x="136" y="982.5">300</text>
<text x="136" y="1026">200</text><text x="136" y="1069">100</text><text x="136" y="1112.5">0</text>
<text x="136" y="1155.5">-100</text><text x="136" y="1199">-200</text><text x="136" y="1242.5">-300</text>
<text x="136" y="1286">-400</text><text x="136" y="1329">-500</text>
</g>
<text x="202" y="916" font-size="24" textLength="75" lengthAdjust="spacingAndGlyphs">toward</text>
<text x="202" y="1329" font-size="24">away</text>
<text x="203" y="1107.5" font-size="24">10</text>
<text x="202" y="1138" font-size="24">-10</text>

<!-- frequency -->
<text x="301" y="984.6" font-size="32" textLength="155" lengthAdjust="spacingAndGlyphs">Frequency</text>
<g font-size="30">
<text x="256.7" y="1017.7" textLength="52.3" lengthAdjust="spacingAndGlyphs">cvw</text>
<text x="322.7" y="1017.7" textLength="46.3" lengthAdjust="spacingAndGlyphs">cve</text>
<text x="385.7" y="1017.7" textLength="47" lengthAdjust="spacingAndGlyphs">fhw</text>
<text x="450.7" y="1017.7" textLength="42" lengthAdjust="spacingAndGlyphs">fhe</text>
</g>
<g font-size="24" text-anchor="end">
<text x="256" y="1041.5">18</text><text x="256" y="1071.3">17</text><text x="256" y="1101.2">16</text><text x="256" y="1131">15</text><text x="256" y="1160.9">14</text><text x="256" y="1190.7">13</text><text x="256" y="1220.6">12</text><text x="256" y="1250.4">11</text><text x="256" y="1280.3">10</text><text x="256" y="1310.1">9</text><text x="256" y="1340">8</text>
</g>
<g font-size="24" text-anchor="middle">
<text x="512" y="1041.5">18</text><text x="512" y="1071.3">17</text><text x="512" y="1101.2">16</text><text x="512" y="1131">15</text><text x="512" y="1160.9">14</text><text x="512" y="1190.7">13</text><text x="512" y="1220.6">12</text><text x="512" y="1250.4">11</text><text x="512" y="1280.3">10</text><text x="512" y="1310.1">9</text><text x="512" y="1340">8</text>
</g>
<g fill="none" stroke="#222" stroke-width="1.8">
<rect x="264" y="1029.7" width="38.3" height="299.3"/>
<rect x="326.7" y="1029.7" width="38.3" height="299.3"/>
<rect x="390" y="1029.7" width="38.3" height="299.3"/>
<rect x="452.7" y="1029.7" width="38.3" height="299.3"/>
<path stroke-width="1.5" d="M264,1059.6H302.3M264,1089.6H302.3M264,1119.5H302.3M264,1149.4H302.3M264,1179.4H302.3M264,1209.3H302.3M264,1239.2H302.3M264,1269.1H302.3M264,1299.1H302.3
M326.7,1059.6H365M326.7,1089.6H365M326.7,1119.5H365M326.7,1149.4H365M326.7,1179.4H365M326.7,1209.3H365M326.7,1239.2H365M326.7,1269.1H365M326.7,1299.1H365
M390,1059.6H428.3M390,1089.6H428.3M390,1119.5H428.3M390,1149.4H428.3M390,1179.4H428.3M390,1209.3H428.3M390,1239.2H428.3M390,1269.1H428.3M390,1299.1H428.3
M452.7,1059.6H491M452.7,1089.6H491M452.7,1119.5H491M452.7,1149.4H491M452.7,1179.4H491M452.7,1209.3H491M452.7,1239.2H491M452.7,1269.1H491M452.7,1299.1H491"/>
</g>
<g fill="#ff4000">
<rect x="258.3" y="1125.8" width="49.4" height="4.2"/>
<rect x="321" y="1213.6" width="50" height="4.1"/>
<rect x="384" y="1213.6" width="50" height="4.1"/>
<rect x="447.3" y="1213.6" width="49.4" height="3.4"/>
<rect x="452.7" y="1217" width="38.3" height="5.2"/>
<rect x="447.3" y="1222.2" width="49.4" height="3.4"/>
</g>
</svg>
</body></html>
